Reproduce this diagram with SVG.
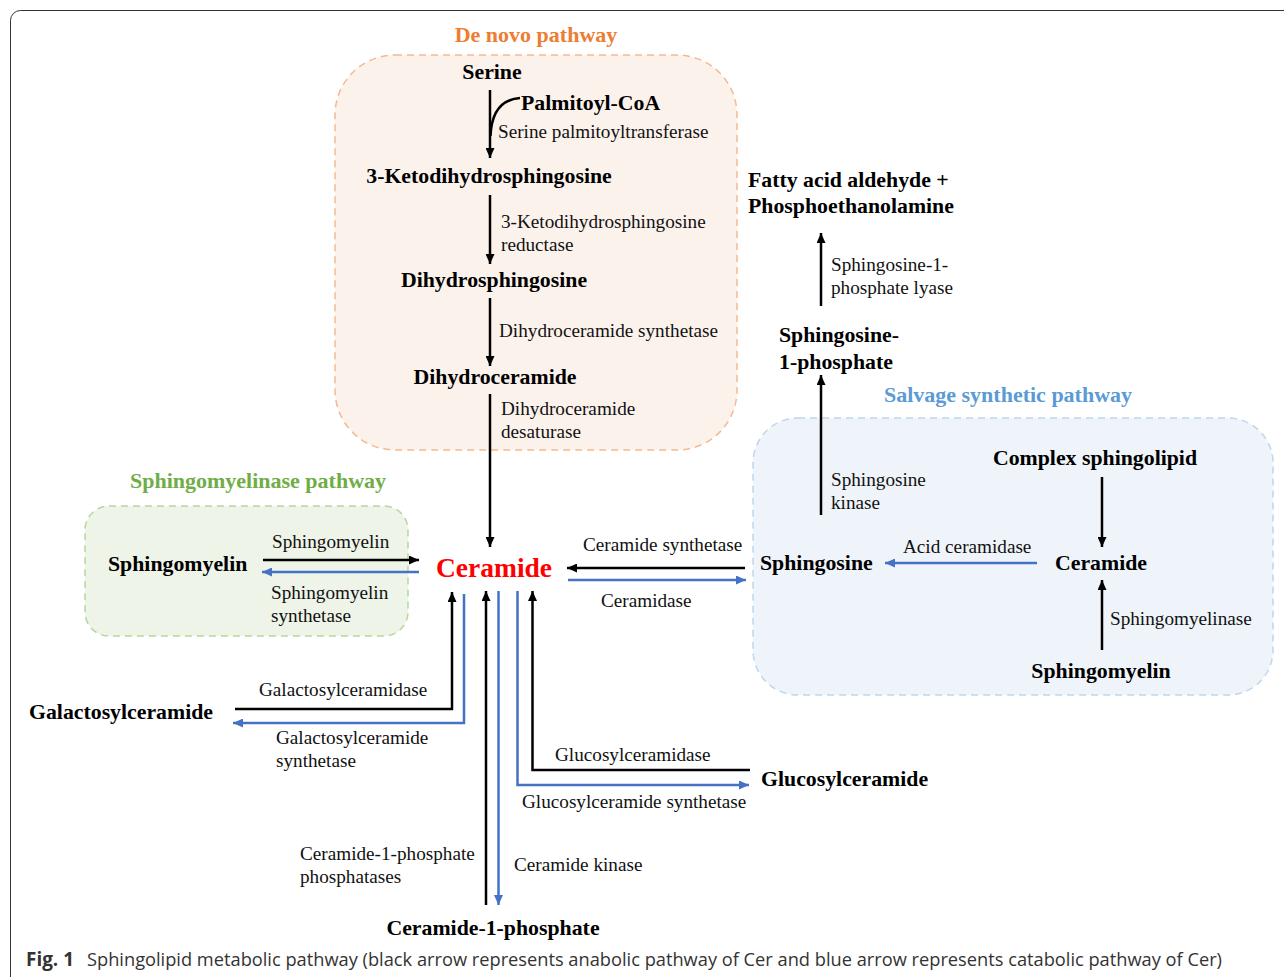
<svg xmlns="http://www.w3.org/2000/svg" width="1284" height="977" viewBox="0 0 1284 977">
<defs>
<marker id="ab" markerUnits="userSpaceOnUse" markerWidth="10" markerHeight="9" refX="10" refY="4.5" orient="auto"><path d="M0,0 L10,4.5 L0,9 z" fill="#000"/></marker>
<marker id="au" markerUnits="userSpaceOnUse" markerWidth="10" markerHeight="9" refX="10" refY="4.5" orient="auto"><path d="M0,0 L10,4.5 L0,9 z" fill="#4472C4"/></marker>
</defs>
<style>
.n{font-family:"Liberation Serif",serif;font-weight:bold;font-size:21.8px;fill:#000}
.l{font-family:"Liberation Serif",serif;font-size:19.2px;fill:#111}
.t{font-family:"Liberation Serif",serif;font-weight:bold;font-size:22px}
.k{stroke:#000;stroke-width:2.5;fill:none}
.b{stroke:#4472C4;stroke-width:2.5;fill:none}
.cap{font-family:"Open Sans","Noto Sans",sans-serif;font-size:19px;fill:#333}
</style>
<rect x="10.5" y="10.5" width="1300" height="1000" rx="10" fill="#fff" stroke="#333" stroke-width="1"/>
<g id="denovo-box">
<rect x="335" y="55" width="402" height="395" rx="60" fill="#FCF2EC" stroke="#F4B990" stroke-width="1.5" stroke-dasharray="7,5"/>
<text class="t" x="536" y="42" text-anchor="middle" fill="#ED7D31">De novo pathway</text>
</g>
<g id="sm-box">
<rect x="85" y="506" width="323" height="130" rx="24" fill="#EEF4E8" stroke="#B5D69C" stroke-width="1.5" stroke-dasharray="7,5"/>
<text class="t" x="258" y="488" text-anchor="middle" fill="#70AD47">Sphingomyelinase pathway</text>
</g>
<g id="salvage-box">
<rect x="753" y="418" width="520" height="277" rx="45" fill="#EFF4FA" stroke="#BDD7EE" stroke-width="1.5" stroke-dasharray="7,5"/>
<text class="t" x="1008" y="402" text-anchor="middle" fill="#5B9BD5">Salvage synthetic pathway</text>
</g>
<g id="connectors">
<line class="k" x1="490" y1="90" x2="490" y2="158" marker-end="url(#ab)"/>
<path class="k" d="M520,98 Q492,100 490.5,136" stroke-width="2"/>
<line class="k" x1="490" y1="195" x2="490" y2="264" marker-end="url(#ab)"/>
<line class="k" x1="490" y1="298" x2="490" y2="366" marker-end="url(#ab)"/>
<line class="k" x1="490" y1="394" x2="490" y2="547" marker-end="url(#ab)"/>
<line class="k" x1="263" y1="560" x2="419" y2="560" marker-end="url(#ab)"/>
<line class="b" x1="419" y1="572" x2="262" y2="572" marker-end="url(#au)"/>
<line class="k" x1="745" y1="568" x2="567" y2="568" marker-end="url(#ab)"/>
<line class="b" x1="568" y1="580" x2="746" y2="580" marker-end="url(#au)"/>
<line class="k" x1="821" y1="515" x2="821" y2="375" marker-end="url(#ab)"/>
<line class="k" x1="821" y1="306" x2="821" y2="233" marker-end="url(#ab)"/>
<line class="k" x1="1102" y1="477" x2="1102" y2="547" marker-end="url(#ab)"/>
<line class="b" x1="1037" y1="563" x2="885" y2="563" marker-end="url(#au)"/>
<line class="k" x1="1102" y1="650" x2="1102" y2="580" marker-end="url(#ab)"/>
<path class="k" d="M235,709 H452 V592" marker-end="url(#ab)"/>
<path class="b" d="M464,594 V723 H233" marker-end="url(#au)"/>
<line class="k" x1="486" y1="905" x2="486" y2="591" marker-end="url(#ab)"/>
<line class="b" x1="498.5" y1="591" x2="498.5" y2="905" marker-end="url(#au)"/>
<path class="b" d="M517.5,591 V785 H749" marker-end="url(#au)"/>
<path class="k" d="M750,770 H532.5 V591" marker-end="url(#ab)"/>
</g>
<g id="serine"><text class="n" x="492" y="79" text-anchor="middle">Serine</text></g>
<g id="palmitoyl"><text class="n" x="521" y="110">Palmitoyl-CoA</text></g>
<g id="ketodihydrosphingosine"><text class="n" x="489" y="183" text-anchor="middle">3-Ketodihydrosphingosine</text></g>
<g id="dihydrosphingosine"><text class="n" x="494" y="287" text-anchor="middle">Dihydrosphingosine</text></g>
<g id="dihydroceramide"><text class="n" x="495" y="384" text-anchor="middle">Dihydroceramide</text></g>
<g id="ceramide"><text x="494" y="577" text-anchor="middle" font-family="Liberation Serif, serif" font-weight="bold" font-size="27.5" fill="#FF0000">Ceramide</text></g>
<g id="sphingomyelin-left"><text class="n" x="108" y="571">Sphingomyelin</text></g>
<g id="sphingosine"><text class="n" x="760" y="570">Sphingosine</text></g>
<g id="s1p"><text class="n" x="779" y="342">Sphingosine-</text><text class="n" x="779" y="369">1-phosphate</text></g>
<g id="fatty"><text class="n" x="748" y="187">Fatty acid aldehyde +</text><text class="n" x="748" y="213">Phosphoethanolamine</text></g>
<g id="complex"><text class="n" x="1095" y="465" text-anchor="middle">Complex sphingolipid</text></g>
<g id="ceramide-salvage"><text class="n" x="1101" y="570" text-anchor="middle">Ceramide</text></g>
<g id="sphingomyelin-salvage"><text class="n" x="1101" y="678" text-anchor="middle">Sphingomyelin</text></g>
<g id="galactosylceramide"><text class="n" x="29" y="719">Galactosylceramide</text></g>
<g id="glucosylceramide"><text class="n" x="761" y="786">Glucosylceramide</text></g>
<g id="c1p"><text class="n" x="493" y="935" text-anchor="middle">Ceramide-1-phosphate</text></g>
<g id="labels">
<text class="l" x="498" y="138">Serine palmitoyltransferase</text>
<text class="l" x="501" y="228">3-Ketodihydrosphingosine</text>
<text class="l" x="501" y="251">reductase</text>
<text class="l" x="499" y="337">Dihydroceramide synthetase</text>
<text class="l" x="501" y="415">Dihydroceramide</text>
<text class="l" x="501" y="438">desaturase</text>
<text class="l" x="272" y="548">Sphingomyelin</text>
<text class="l" x="271" y="599">Sphingomyelin</text>
<text class="l" x="271" y="622">synthetase</text>
<text class="l" x="583" y="551">Ceramide synthetase</text>
<text class="l" x="601" y="607">Ceramidase</text>
<text class="l" x="831" y="486">Sphingosine</text>
<text class="l" x="831" y="509">kinase</text>
<text class="l" x="831" y="271">Sphingosine-1-</text>
<text class="l" x="831" y="294">phosphate lyase</text>
<text class="l" x="903" y="553">Acid ceramidase</text>
<text class="l" x="1110" y="625">Sphingomyelinase</text>
<text class="l" x="259" y="696">Galactosylceramidase</text>
<text class="l" x="276" y="744">Galactosylceramide</text>
<text class="l" x="276" y="767">synthetase</text>
<text class="l" x="555" y="761">Glucosylceramidase</text>
<text class="l" x="522" y="808">Glucosylceramide synthetase</text>
<text class="l" x="300" y="860">Ceramide-1-phosphate</text>
<text class="l" x="300" y="883">phosphatases</text>
<text class="l" x="514" y="871">Ceramide kinase</text>
</g>
<g id="caption">
<text class="cap" x="26" y="966" font-weight="bold" fill="#222" textLength="48" lengthAdjust="spacingAndGlyphs">Fig. 1</text>
<text class="cap" x="87" y="966" textLength="1135" lengthAdjust="spacingAndGlyphs">Sphingolipid metabolic pathway (black arrow represents anabolic pathway of Cer and blue arrow represents catabolic pathway of Cer)</text>
</g>
</svg>
